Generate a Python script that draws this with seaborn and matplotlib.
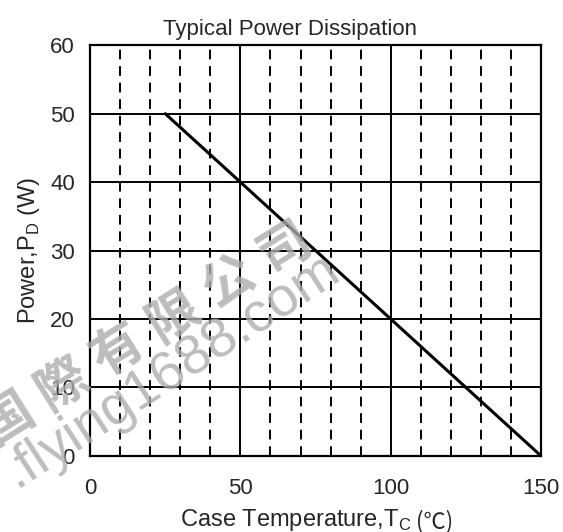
import matplotlib
matplotlib.use("Agg")
import matplotlib.pyplot as plt
import numpy as np
import pandas as pd
import seaborn as sns

# derating curve
case_temp = [25, 150]
power = [50, 0]

x_major = [0, 50, 100, 150]
x_minor = [10, 20, 30, 40, 60, 70, 80, 90, 110, 120, 130, 140]
y_ticks = [0, 10, 20, 30, 40, 50, 60]

watermark_cn = "国際有限公司"
watermark_url = ".flying1688.com"

sns.set_style("white")
plt.rcParams['font.family'] = ['Liberation Sans', 'Noto Sans CJK JP', 'DejaVu Sans']

fig, ax = plt.subplots(figsize=(5.63, 5.32), dpi=100)
fig.subplots_adjust(left=0.160, right=0.961, top=0.915, bottom=0.143)

df = pd.DataFrame({'temp': case_temp, 'power': power})
sns.lineplot(data=df, x='temp', y='power', ax=ax, color='black', linewidth=2.2)

ax.set_xlim(0, 150)
ax.set_ylim(0, 60)
ax.set_xticks(x_major)
ax.set_xticks(x_minor, minor=True)
ax.set_yticks(y_ticks)

ax.grid(which='major', axis='both', color='black', linewidth=1.4, linestyle='-')
ax.grid(which='minor', axis='x', color='black', linewidth=1.4, linestyle=(0, (5, 3.5)))
ax.set_axisbelow(True)

for s in ax.spines.values():
    s.set_color('black')
    s.set_linewidth(1.6)

ax.tick_params(axis='x', which='both', length=0, pad=16, labelsize=16)
ax.tick_params(axis='y', which='both', length=0, pad=11, labelsize=16)

ax.set_title("Typical Power Dissipation", fontsize=16, pad=7, x=0.443)
ax.set_xlabel("Case Temperature,T$_\\mathregular{C}$", fontsize=17, labelpad=6, x=0.455)
ax.set_ylabel("Power,P$_\\mathregular{D}$ (W)", fontsize=17, labelpad=6)
# degree sign part needs a CJK font, so it sits right after the label
ax.annotate(" (℃)", xy=(1, 0), xycoords=ax.xaxis.label, ha='left', va='bottom',
            fontsize=16, family=['Noto Sans CJK JP', 'DejaVu Sans'])

# watermark, spaced out characters
wm_color = '#acacac'
for i, ch in enumerate(watermark_cn):
    fig.text(0.012 + 0.0988 * i, 0.214 + 0.0643 * i, ch, rotation=32, fontsize=37,
             color=wm_color, ha='center', va='center', family=['Noto Sans CJK JP'],
             fontweight='bold', alpha=0.8)
fig.text(0.306, 0.305, watermark_url, rotation=33, fontsize=40, color=wm_color,
         ha='center', va='center', family=['Liberation Sans'], alpha=0.8)

fig.savefig("out.png", dpi=100)
